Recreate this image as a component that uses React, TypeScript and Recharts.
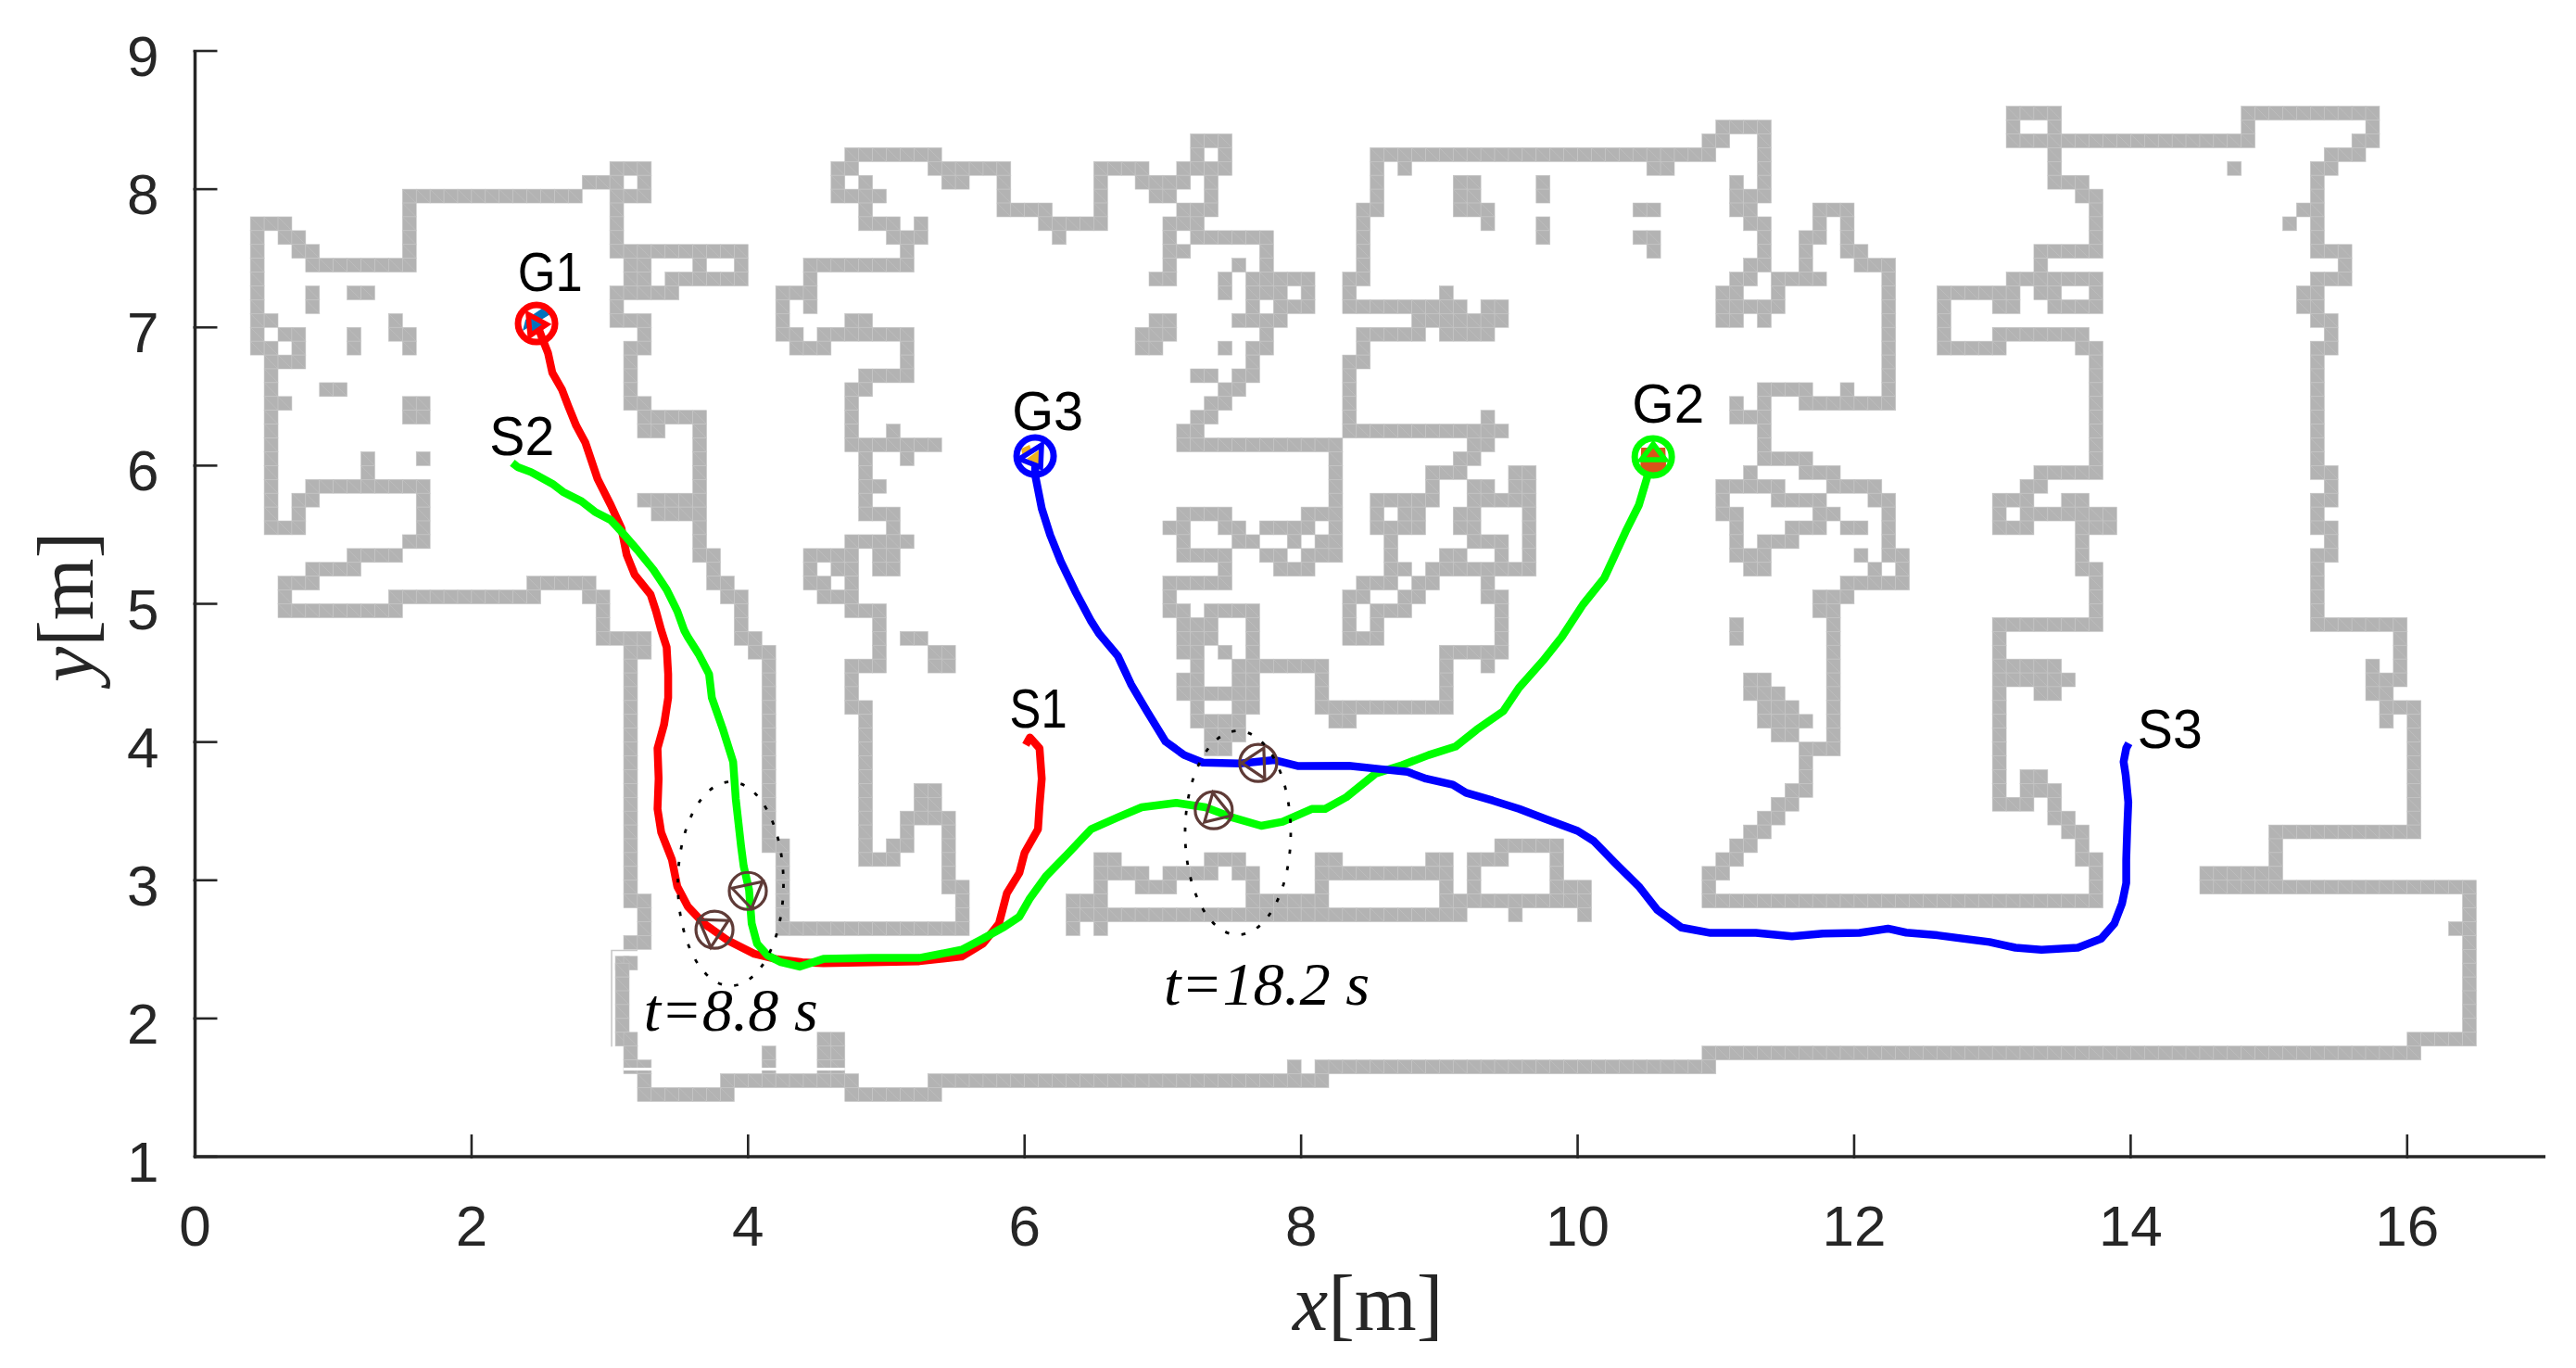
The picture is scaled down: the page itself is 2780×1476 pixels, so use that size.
import { Scatter, ScatterChart, XAxis, YAxis } from "recharts";

const X_TICKS = [0, 2, 4, 6, 8, 10, 12, 14, 16];
const Y_TICKS = [1, 2, 3, 4, 5, 6, 7, 8, 9];

// occupancy map: [top edge in 0.1 m, column runs start,end in 0.1 m]
const MAP_ROWS: [number, number[]][] = [
  [86, [131, 135, 148, 158]],
  [85, [110, 114, 131, 132, 134, 135, 148, 149, 157, 158]],
  [84, [72, 75, 109, 111, 113, 114, 131, 149, 156, 158]],
  [83, [47, 54, 72, 73, 74, 75, 85, 110, 113, 114, 134, 135, 154, 157]],
  [82, [30, 33, 46, 48, 53, 59, 65, 69, 71, 75, 85, 86, 87, 88, 105, 107, 113, 114, 134, 135, 147, 148, 153, 155]],
  [81, [28, 31, 32, 33, 46, 47, 48, 49, 54, 56, 58, 59, 65, 66, 68, 72, 73, 74, 85, 86, 91, 93, 97, 98, 111, 112, 113, 114, 134, 137, 153, 154]],
  [80, [15, 28, 30, 33, 46, 50, 58, 59, 65, 66, 69, 71, 73, 74, 85, 86, 91, 93, 97, 98, 111, 114, 136, 138, 153, 154]],
  [79, [15, 16, 30, 31, 48, 49, 58, 62, 65, 66, 71, 74, 84, 86, 91, 94, 104, 106, 111, 113, 117, 120, 137, 138, 152, 154]],
  [78, [4, 7, 15, 16, 30, 31, 48, 51, 52, 53, 61, 66, 70, 73, 84, 85, 93, 94, 97, 98, 112, 114, 117, 118, 119, 120, 137, 138, 151, 152, 153, 154]],
  [77, [4, 5, 6, 8, 15, 16, 30, 31, 50, 53, 62, 63, 70, 71, 72, 78, 84, 85, 97, 98, 104, 106, 113, 114, 116, 118, 119, 120, 137, 138, 153, 154]],
  [76, [4, 5, 7, 9, 15, 16, 30, 40, 51, 52, 70, 72, 77, 78, 84, 85, 105, 106, 113, 114, 116, 117, 119, 121, 133, 138, 153, 156]],
  [75, [4, 5, 8, 16, 31, 33, 36, 37, 39, 40, 44, 52, 70, 71, 75, 76, 77, 78, 84, 85, 112, 114, 116, 117, 120, 123, 133, 134, 155, 156]],
  [74, [4, 5, 31, 33, 34, 40, 44, 45, 69, 71, 74, 75, 76, 81, 83, 85, 111, 113, 114, 118, 122, 123, 131, 138, 153, 156]],
  [73, [4, 5, 8, 9, 11, 13, 30, 35, 42, 45, 74, 75, 76, 79, 80, 81, 83, 84, 90, 91, 110, 112, 114, 115, 122, 123, 126, 132, 133, 135, 137, 138, 152, 154]],
  [72, [4, 5, 8, 9, 30, 31, 42, 43, 44, 45, 76, 77, 78, 81, 83, 92, 93, 95, 110, 115, 122, 123, 126, 127, 130, 132, 134, 138, 152, 154]],
  [71, [4, 6, 14, 15, 30, 33, 42, 43, 47, 49, 69, 71, 75, 79, 88, 95, 110, 112, 113, 114, 122, 123, 126, 127, 153, 155]],
  [70, [4, 5, 6, 8, 11, 12, 14, 16, 32, 33, 42, 44, 45, 52, 68, 71, 77, 78, 84, 89, 90, 94, 122, 123, 126, 127, 130, 137, 154, 155]],
  [69, [4, 6, 7, 8, 11, 12, 15, 16, 31, 33, 43, 46, 51, 52, 68, 70, 74, 75, 76, 78, 84, 85, 122, 123, 126, 131, 136, 138, 153, 155]],
  [68, [5, 8, 31, 32, 51, 52, 76, 77, 83, 85, 122, 123, 137, 138, 153, 154]],
  [67, [5, 6, 31, 32, 48, 52, 72, 74, 75, 77, 83, 84, 122, 123, 137, 138, 153, 154]],
  [66, [5, 6, 9, 11, 31, 32, 47, 49, 74, 76, 83, 84, 113, 117, 119, 120, 122, 123, 137, 138, 153, 154]],
  [65, [5, 7, 15, 17, 31, 33, 47, 48, 73, 75, 83, 84, 111, 112, 113, 114, 116, 123, 137, 138, 153, 154]],
  [64, [5, 6, 15, 17, 32, 37, 47, 48, 72, 74, 83, 84, 93, 94, 111, 114, 137, 138, 153, 154]],
  [63, [5, 6, 32, 34, 36, 37, 47, 48, 50, 51, 71, 73, 83, 95, 113, 114, 137, 138, 153, 154]],
  [62, [5, 6, 36, 37, 47, 54, 71, 83, 92, 94, 113, 114, 137, 138, 153, 154]],
  [61, [5, 6, 12, 13, 16, 17, 36, 37, 48, 49, 51, 52, 82, 83, 91, 93, 113, 117, 137, 138, 153, 154]],
  [60, [5, 6, 12, 13, 36, 37, 48, 49, 82, 83, 89, 92, 95, 97, 112, 113, 116, 119, 133, 138, 153, 155]],
  [59, [5, 6, 8, 17, 36, 37, 48, 50, 82, 83, 89, 90, 92, 94, 95, 97, 110, 115, 118, 122, 132, 134, 154, 155]],
  [58, [5, 6, 7, 9, 16, 17, 32, 37, 48, 49, 82, 83, 85, 90, 92, 97, 110, 111, 114, 118, 121, 123, 130, 133, 135, 137, 153, 155]],
  [57, [5, 6, 7, 8, 16, 17, 33, 37, 48, 51, 71, 75, 80, 83, 85, 86, 87, 89, 91, 93, 96, 97, 110, 112, 117, 119, 122, 123, 130, 131, 132, 139, 153, 154]],
  [56, [5, 8, 16, 17, 36, 37, 50, 51, 70, 72, 74, 76, 77, 81, 82, 83, 85, 89, 91, 93, 96, 97, 111, 112, 115, 118, 119, 121, 122, 123, 130, 133, 136, 139, 153, 155]],
  [55, [15, 17, 36, 37, 47, 52, 71, 72, 75, 77, 79, 80, 81, 83, 86, 87, 92, 95, 96, 97, 111, 112, 113, 116, 122, 123, 136, 137, 154, 155]],
  [54, [11, 15, 36, 38, 44, 48, 49, 51, 71, 75, 77, 79, 80, 83, 86, 87, 90, 92, 94, 95, 96, 97, 111, 114, 120, 121, 122, 124, 136, 137, 153, 155]],
  [53, [8, 12, 37, 38, 44, 45, 46, 48, 49, 51, 74, 75, 78, 81, 86, 88, 89, 97, 112, 114, 121, 122, 123, 124, 136, 138, 153, 154]],
  [52, [6, 9, 24, 29, 37, 39, 44, 46, 47, 48, 70, 75, 84, 87, 88, 90, 93, 94, 119, 124, 137, 138, 153, 154]],
  [51, [6, 7, 14, 25, 28, 30, 38, 40, 45, 48, 70, 71, 83, 85, 87, 89, 93, 95, 117, 120, 137, 138, 153, 154]],
  [50, [6, 15, 29, 30, 39, 40, 47, 50, 70, 72, 73, 77, 83, 84, 85, 88, 94, 95, 117, 119, 137, 138, 153, 154]],
  [49, [29, 30, 39, 40, 49, 50, 71, 74, 76, 77, 83, 84, 85, 86, 94, 95, 111, 112, 118, 119, 130, 138, 153, 160]],
  [48, [29, 33, 39, 41, 49, 50, 51, 53, 71, 74, 76, 77, 83, 86, 94, 95, 111, 112, 118, 119, 130, 131, 159, 160]],
  [47, [31, 33, 40, 42, 49, 50, 53, 55, 71, 73, 74, 75, 76, 77, 90, 95, 118, 119, 130, 131, 159, 160]],
  [46, [31, 32, 41, 42, 47, 50, 53, 55, 72, 73, 75, 82, 90, 91, 93, 94, 118, 119, 130, 135, 157, 158, 159, 160]],
  [45, [31, 32, 41, 42, 47, 48, 71, 73, 75, 77, 81, 82, 90, 91, 112, 114, 118, 119, 130, 136, 157, 160]],
  [44, [31, 32, 41, 42, 47, 48, 71, 77, 81, 82, 90, 91, 112, 115, 118, 119, 130, 131, 133, 135, 157, 159]],
  [43, [31, 32, 41, 42, 47, 49, 72, 73, 75, 77, 81, 91, 113, 116, 118, 119, 130, 131, 158, 161]],
  [42, [31, 32, 41, 42, 48, 49, 72, 76, 82, 84, 113, 117, 118, 119, 130, 131, 158, 159, 160, 161]],
  [41, [31, 32, 41, 42, 48, 49, 73, 76, 114, 116, 118, 119, 130, 131, 160, 161]],
  [40, [31, 32, 41, 42, 48, 49, 73, 75, 116, 119, 130, 131, 160, 161]],
  [39, [31, 32, 41, 42, 48, 49, 116, 117, 130, 131, 160, 161]],
  [38, [31, 32, 41, 42, 48, 49, 116, 117, 130, 131, 132, 134, 160, 161]],
  [37, [31, 32, 41, 42, 48, 49, 52, 54, 115, 117, 130, 131, 132, 135, 160, 161]],
  [36, [31, 32, 41, 42, 48, 49, 52, 54, 114, 116, 130, 133, 134, 135, 160, 161]],
  [35, [31, 32, 41, 42, 48, 49, 51, 55, 113, 115, 134, 136, 160, 161]],
  [34, [31, 32, 41, 42, 48, 49, 51, 52, 54, 55, 112, 114, 135, 137, 150, 161]],
  [33, [31, 32, 41, 43, 48, 49, 50, 52, 54, 55, 94, 99, 111, 113, 136, 137, 150, 151]],
  [32, [31, 32, 42, 43, 48, 51, 54, 55, 65, 67, 73, 76, 81, 83, 89, 91, 92, 95, 98, 99, 110, 112, 136, 138, 150, 151]],
  [31, [31, 32, 42, 43, 54, 55, 65, 69, 70, 74, 75, 77, 81, 91, 92, 93, 98, 99, 109, 111, 137, 138, 145, 151]],
  [30, [31, 32, 42, 43, 54, 56, 65, 66, 68, 71, 76, 77, 81, 82, 90, 91, 92, 93, 98, 101, 109, 110, 137, 138, 145, 165]],
  [29, [31, 33, 42, 43, 55, 56, 63, 66, 76, 82, 90, 101, 109, 138, 164, 165]],
  [28, [32, 33, 42, 43, 55, 56, 63, 92, 95, 96, 100, 101, 164, 165]],
  [27, [32, 33, 42, 56, 63, 64, 65, 66, 163, 165]],
  [26, [31, 33, 164, 165]],
  [25, [164, 165]],
  [24.5, [30.4, 31.4, 31, 32]],
  [24, [30.4, 31.4, 164, 165]],
  [23, [30.4, 31.4, 164, 165]],
  [22, [30.4, 31.4, 164, 165]],
  [21, [30.4, 31.4, 164, 165]],
  [20, [30.4, 31.4, 164, 165]],
  [19, [30.4, 31.4, 31, 32, 45, 47, 160, 165]],
  [18, [31, 32, 41, 42, 45, 47, 109, 161]],
  [17, [31, 33, 41, 42, 45, 47, 79, 80, 81, 110]],
  [16, [32, 33, 38, 48, 53, 82]],
  [15, [32, 39, 47, 54]],
];

const RED_X = [2.47, 2.515, 2.553, 2.584, 2.653, 2.699, 2.757, 2.822, 2.911, 3.007, 3.084, 3.122, 3.18, 3.295, 3.334, 3.372, 3.411, 3.422, 3.422, 3.392, 3.345, 3.353, 3.345, 3.372, 3.449, 3.488, 3.565, 3.68, 3.853, 4.045, 4.199, 4.392, 4.545, 4.892, 5.238, 5.545, 5.699, 5.815, 5.872, 5.962, 6.0, 6.097, 6.108, 6.124, 6.108, 6.039, 6.008];
const RED_Y = [7.03, 6.911, 6.815, 6.672, 6.552, 6.432, 6.289, 6.169, 5.905, 5.714, 5.546, 5.354, 5.211, 5.067, 4.947, 4.808, 4.686, 4.491, 4.32, 4.125, 3.955, 3.735, 3.516, 3.345, 3.15, 2.955, 2.809, 2.687, 2.565, 2.468, 2.431, 2.407, 2.399, 2.407, 2.414, 2.448, 2.541, 2.687, 2.906, 3.053, 3.199, 3.37, 3.54, 3.735, 3.955, 4.033, 3.979];

const GREEN_X = [2.295, 2.334, 2.43, 2.584, 2.661, 2.795, 2.892, 3.007, 3.084, 3.199, 3.315, 3.411, 3.488, 3.538, 3.565, 3.642, 3.718, 3.738, 3.815, 3.892, 3.911, 3.949, 3.968, 4.007, 4.026, 4.065, 4.142, 4.238, 4.372, 4.545, 4.892, 5.238, 5.545, 5.699, 5.853, 5.962, 6.039, 6.154, 6.308, 6.481, 6.674, 6.847, 7.097, 7.308, 7.5, 7.712, 7.866, 8.077, 8.174, 8.327, 8.539, 8.731, 8.923, 9.116, 9.27, 9.462, 9.577, 9.75, 9.885, 10.039, 10.193, 10.27, 10.347, 10.443, 10.5, 10.547];
const GREEN_Y = [6.02, 5.989, 5.953, 5.869, 5.81, 5.742, 5.666, 5.606, 5.522, 5.39, 5.247, 5.103, 4.947, 4.808, 4.759, 4.637, 4.491, 4.32, 4.101, 3.857, 3.589, 3.248, 3.102, 2.931, 2.687, 2.541, 2.456, 2.407, 2.375, 2.431, 2.438, 2.438, 2.497, 2.577, 2.663, 2.736, 2.87, 3.028, 3.187, 3.37, 3.455, 3.528, 3.56, 3.528, 3.455, 3.394, 3.423, 3.516, 3.516, 3.601, 3.772, 3.833, 3.906, 3.967, 4.089, 4.223, 4.394, 4.589, 4.759, 4.995, 5.187, 5.354, 5.522, 5.714, 5.905, 6.06];

const BLUE_X = [6.076, 6.077, 6.124, 6.185, 6.262, 6.366, 6.481, 6.539, 6.673, 6.77, 6.885, 7.02, 7.154, 7.289, 7.558, 7.808, 7.981, 8.346, 8.577, 8.77, 8.904, 9.097, 9.193, 9.385, 9.577, 9.77, 10.0, 10.116, 10.27, 10.443, 10.577, 10.75, 10.962, 11.289, 11.55, 11.775, 12.039, 12.245, 12.377, 12.603, 12.979, 13.167, 13.355, 13.618, 13.787, 13.882, 13.938, 13.968, 13.968, 13.975, 13.983, 13.964, 13.949, 13.968, 13.987];
const BLUE_Y = [6.07, 5.929, 5.69, 5.498, 5.306, 5.091, 4.875, 4.784, 4.625, 4.418, 4.223, 4.003, 3.906, 3.852, 3.845, 3.87, 3.826, 3.828, 3.804, 3.784, 3.735, 3.691, 3.633, 3.577, 3.516, 3.443, 3.357, 3.284, 3.126, 2.955, 2.785, 2.658, 2.619, 2.619, 2.594, 2.614, 2.619, 2.65, 2.621, 2.602, 2.553, 2.512, 2.497, 2.512, 2.577, 2.687, 2.833, 2.98, 3.15, 3.37, 3.565, 3.76, 3.857, 3.955, 3.991];

const GOAL_X = [2.47, 10.547, 6.076];
const GOAL_Y = [7.028, 6.063, 6.069];

const ROBOT_X = [3.757, 3.998, 7.69, 7.368];
const ROBOT_Y = [2.642, 2.923, 3.849, 3.507];

const WINDOW_X = [3.874, 7.543];
const WINDOW_Y = [2.974, 3.343];

const LABELS = ["G1", "S2", "S1", "G3", "G2", "S3"];
const LABEL_X = [2.334, 2.13, 5.892, 5.909, 10.393, 14.05];
const LABEL_Y = [7.263, 6.073, 4.106, 6.26, 6.312, 3.955];

const TIMES = ["t=8.8 s", "t=18.2 s"];
const TIME_X = [3.245, 7.008];
const TIME_Y = [1.912, 2.097];

const SEAM_X = [3.1, 4.7];
const SEAM_Y = [1.634, 1.634];
const EDGE_X = [3.2, 3.013, 3.013];
const EDGE_Y = [2.492, 2.492, 1.797];

const zip = (xs: number[], ys: number[]) => xs.map((x, i) => ({ x, y: ys[i] }));

const mapCells = MAP_ROWS.flatMap(([top, runs]) => {
  const cells: { x: number; y: number }[] = [];
  for (let r = 0; r < runs.length; r += 2) {
    for (let col = runs[r]; col < runs[r + 1]; col += 1) {
      cells.push({ x: (col + 0.5) / 10, y: (top - 0.5) / 10 });
    }
  }
  return cells;
});

const INK = "#262626";
const CELL = 14.92;
const BROWN = "#5f3b37";
const TRACK_WIDTH = 8.5;

const NoPoint = () => null;

function MapCell({ cx, cy }: any) {
  const h = CELL / 2;
  return (
    <g>
      <rect x={cx - h} y={cy - h} width={CELL} height={CELL} fill="#b3b3b3" stroke="#c6c6c6" strokeWidth={0.6} />
      <path d={`M${cx - h} ${cy - h}L${cx + h} ${cy + h}`} stroke="#c2c2c2" strokeWidth={0.6} />
    </g>
  );
}

const GOAL_STYLES = [
  { color: "#ff0000", fill: "#0072bd", inner: "-9,-10 11,1 -7,13", wedge: "-15,8 -12,-4 7,-17 15,-10", outline: "-9,-10 11,1 -7,13" },
  { color: "#00ff00", fill: "#d95319", inner: "-13,-10 13,-10 14,13 6,17 -6,17 -14,13", wedge: "0,-8 -8,2 8,2", outline: "0,-14 -13,3 13,3" },
  { color: "#0000ff", fill: "#edb120", inner: "-9,3 5,-7 5,10", wedge: "-15,-8 -6,-12 -4,-6 -13,2", outline: "-17,3 7,-12 6,12" },
];

function GoalMark({ cx, cy, index }: any) {
  const s = GOAL_STYLES[index];
  return (
    <g transform={`translate(${cx} ${cy})`}>
      <polygon points={s.inner} fill={s.fill} />
      <polygon points={s.wedge} fill={s.fill} />
      <circle r={20} fill="none" stroke={s.color} strokeWidth={7} />
      <polygon points={s.outline} fill="none" stroke={s.color} strokeWidth={5.5} />
    </g>
  );
}

const ROBOT_TRIANGLES = ["-17,-11 15,-10 -4,19", "-17,-3 16,-10 4,19", "-18,0 6,-16 7,17", "-1,-19 19,6 -10,13"];

function RobotMark({ cx, cy, index }: any) {
  return (
    <g transform={`translate(${cx} ${cy})`} fill="none" stroke={BROWN} strokeWidth={3.2}>
      <circle r={20} />
      <polygon points={ROBOT_TRIANGLES[index]} />
    </g>
  );
}

function WindowMark({ cx, cy }: any) {
  return <ellipse cx={cx} cy={cy} rx={57} ry={110} fill="none" stroke="#000" strokeWidth={2.8} strokeDasharray="4.5 13.5" />;
}

const LABEL_WIDTHS = [70, 70, 62, 77, 78, 70];

function NameMark({ cx, cy, index }: any) {
  return (
    <text x={cx} y={cy} fontFamily="'Liberation Sans', Arial, sans-serif" fontSize={59} fill="#000" textLength={LABEL_WIDTHS[index]} lengthAdjust="spacingAndGlyphs">
      {LABELS[index]}
    </text>
  );
}

const TIME_WIDTHS = [188, 222];

function TimeMark({ cx, cy, index }: any) {
  return (
    <text x={cx} y={cy} fontFamily="'Liberation Serif', serif" fontStyle="italic" fontSize={66} fill="#000" textLength={TIME_WIDTHS[index]} lengthAdjust="spacingAndGlyphs">
      {TIMES[index]}
    </text>
  );
}

function XTick({ x, y, payload }: any) {
  return (
    <g>
      <line x1={x} x2={x} y1={y} y2={y - 26} stroke={INK} strokeWidth={2.6} />
      <text x={x} y={y + 94} textAnchor="middle" fontFamily="'Liberation Sans', Arial, sans-serif" fontSize={62} fill={INK}>
        {payload.value}
      </text>
    </g>
  );
}

function YTick({ x, y, payload }: any) {
  return (
    <g>
      <line x1={x} x2={x + 26} y1={y} y2={y} stroke={INK} strokeWidth={2.6} />
      <text x={x - 37} y={y + 27} textAnchor="end" fontFamily="'Liberation Sans', Arial, sans-serif" fontSize={62} fill={INK}>
        {payload.value}
      </text>
    </g>
  );
}

export default function App() {
  return (
    <div style={{ position: "absolute", left: 0, top: 0, width: 2780, height: 1476, background: "#fff", overflow: "hidden" }}>
      <ScatterChart width={2780} height={1476} margin={{ top: 55, right: 33, bottom: 0, left: 0 }}>
        <XAxis
          type="number"
          dataKey="x"
          domain={[0, 17]}
          ticks={X_TICKS}
          interval={0}
          height={228}
          tickSize={0}
          tickLine={false}
          tick={XTick}
          axisLine={{ stroke: INK, strokeWidth: 3.5 }}
        />
        <YAxis
          type="number"
          dataKey="y"
          domain={[1, 9]}
          ticks={Y_TICKS}
          interval={0}
          width={210.5}
          tickSize={0}
          tickLine={false}
          tick={YTick}
          axisLine={{ stroke: INK, strokeWidth: 3.5 }}
        />
        <Scatter data={mapCells} shape={MapCell} isAnimationActive={false} />
        <Scatter data={zip(SEAM_X, SEAM_Y)} shape={NoPoint} line={{ stroke: "#fff", strokeWidth: 3 }} isAnimationActive={false} />
        <Scatter data={zip(EDGE_X, EDGE_Y)} shape={NoPoint} line={{ stroke: "#c8c8c8", strokeWidth: 1.6 }} isAnimationActive={false} />
        <Scatter data={zip(RED_X, RED_Y)} shape={NoPoint} line={{ stroke: "#ff0000", strokeWidth: TRACK_WIDTH, strokeLinejoin: "round" }} isAnimationActive={false} />
        <Scatter data={zip(GREEN_X, GREEN_Y)} shape={NoPoint} line={{ stroke: "#00ff00", strokeWidth: TRACK_WIDTH, strokeLinejoin: "round" }} isAnimationActive={false} />
        <Scatter data={zip(BLUE_X, BLUE_Y)} shape={NoPoint} line={{ stroke: "#0000ff", strokeWidth: TRACK_WIDTH, strokeLinejoin: "round" }} isAnimationActive={false} />
        <Scatter data={zip(GOAL_X, GOAL_Y)} shape={(p: any) => <GoalMark {...p} />} isAnimationActive={false} />
        <Scatter data={zip(ROBOT_X, ROBOT_Y)} shape={(p: any) => <RobotMark {...p} />} isAnimationActive={false} />
        <Scatter data={zip(WINDOW_X, WINDOW_Y)} shape={WindowMark} isAnimationActive={false} />
        <Scatter data={zip(LABEL_X, LABEL_Y)} shape={(p: any) => <NameMark {...p} />} isAnimationActive={false} />
        <Scatter data={zip(TIME_X, TIME_Y)} shape={(p: any) => <TimeMark {...p} />} isAnimationActive={false} />
        <text x={1395} y={1435} fontFamily="'Liberation Serif', serif" fontSize={86} fill={INK}>
          <tspan fontStyle="italic">x</tspan>[m]
        </text>
        <text transform="translate(100 736) rotate(-90)" fontFamily="'Liberation Serif', serif" fontSize={86} fill={INK}>
          <tspan fontStyle="italic">y</tspan>[m]
        </text>
      </ScatterChart>
    </div>
  );
}
